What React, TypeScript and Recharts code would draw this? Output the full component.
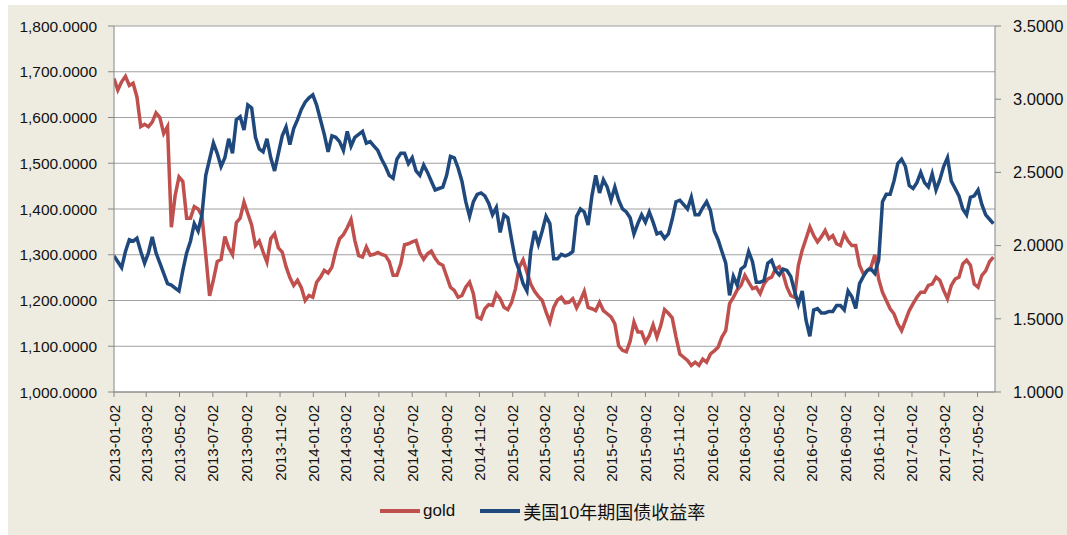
import React from "react";
import { LineChart, Line, XAxis, YAxis, CartesianGrid } from "recharts";

// Weekly observations (Wednesdays) starting 2013-01-02
const START_DATE = "2013-01-02";

const goldValues = [
  1685, 1660, 1678, 1690, 1670, 1675, 1645, 1580, 1585, 1580,
  1590, 1610, 1600, 1565, 1580, 1360, 1430, 1470, 1460, 1380,
  1380, 1405, 1400, 1385, 1300, 1210, 1245, 1285, 1290, 1340,
  1315, 1300, 1370, 1380, 1415, 1390, 1365, 1320, 1330, 1306,
  1284, 1335, 1346, 1315, 1306, 1274, 1250, 1233, 1244, 1228,
  1200, 1211, 1207, 1240, 1251, 1266, 1260, 1273, 1308, 1335,
  1344, 1359, 1377, 1331, 1298, 1295, 1317, 1299, 1301, 1305,
  1301, 1298, 1285, 1255, 1255, 1280, 1322, 1324, 1328, 1331,
  1304, 1290, 1302, 1308, 1292, 1281, 1277, 1253, 1229, 1222,
  1207, 1211, 1229, 1240, 1215, 1164, 1160, 1182, 1191, 1189,
  1215, 1204, 1185, 1180, 1196, 1226, 1273, 1289, 1262, 1236,
  1220, 1209, 1200, 1175, 1153, 1185, 1201, 1207, 1195, 1196,
  1204, 1184, 1200, 1220, 1185, 1182, 1178, 1196, 1178, 1171,
  1164, 1149, 1101, 1091, 1088, 1111, 1153, 1131, 1131, 1109,
  1123, 1147, 1120, 1145, 1180, 1172, 1162, 1120, 1083, 1076,
  1069, 1058, 1065, 1058, 1072, 1065, 1083, 1090, 1098, 1120,
  1134, 1193, 1207, 1223, 1233, 1255, 1240, 1226, 1229, 1215,
  1236, 1247, 1251, 1269, 1274, 1258, 1229, 1211, 1207, 1277,
  1310, 1335, 1361, 1342, 1328, 1339, 1353, 1335, 1342, 1324,
  1320, 1345, 1330, 1320, 1320, 1277, 1258, 1265, 1273, 1300,
  1247, 1218, 1200, 1182, 1171, 1149, 1134, 1156, 1178, 1193,
  1207, 1218, 1218, 1233, 1236, 1251, 1244, 1222, 1204, 1233,
  1247, 1251, 1280, 1288, 1277, 1236, 1229, 1255, 1265, 1285, 1295,
];

const yieldValues = [
  1.93, 1.89, 1.85, 1.96, 2.04, 2.03, 2.05, 1.96, 1.88, 1.95,
  2.06, 1.95, 1.88, 1.81, 1.74, 1.73, 1.71, 1.69, 1.83, 1.95,
  2.03, 2.15, 2.10, 2.21, 2.48, 2.59, 2.70, 2.63, 2.54, 2.60,
  2.73, 2.63, 2.86, 2.88, 2.79, 2.96, 2.94, 2.74, 2.66, 2.64,
  2.73, 2.60, 2.51, 2.63, 2.75, 2.81, 2.69, 2.80, 2.86, 2.93,
  2.98, 3.01, 3.03, 2.96, 2.86, 2.76, 2.64, 2.75, 2.74, 2.71,
  2.65, 2.78, 2.68, 2.74, 2.76, 2.78, 2.70, 2.71, 2.68, 2.65,
  2.59, 2.54, 2.48, 2.46, 2.59, 2.63, 2.63, 2.56, 2.60, 2.51,
  2.48, 2.55, 2.50, 2.44, 2.38, 2.39, 2.40, 2.48, 2.61, 2.60,
  2.53, 2.44, 2.30, 2.20, 2.30, 2.35, 2.36, 2.34, 2.29, 2.21,
  2.26, 2.09, 2.21, 2.19, 2.04, 1.90, 1.83, 1.74, 1.69, 1.96,
  2.10, 2.01, 2.10, 2.20, 2.15, 1.91, 1.91, 1.94, 1.93, 1.94,
  1.96, 2.20, 2.25, 2.23, 2.14, 2.34, 2.48, 2.36, 2.45, 2.40,
  2.31, 2.40, 2.31, 2.25, 2.23, 2.19, 2.08, 2.15, 2.21, 2.16,
  2.23, 2.16, 2.08, 2.09, 2.05, 2.08, 2.18, 2.30, 2.31, 2.28,
  2.25, 2.33, 2.21, 2.21, 2.26, 2.30, 2.24, 2.10, 2.04, 1.96,
  1.88, 1.66, 1.79, 1.73, 1.84, 1.86, 1.96, 1.89, 1.75, 1.75,
  1.76, 1.88, 1.90, 1.83, 1.80, 1.84, 1.83, 1.79, 1.69, 1.60,
  1.69, 1.49, 1.38, 1.56, 1.57, 1.54, 1.54, 1.55, 1.55, 1.59,
  1.59, 1.56, 1.69, 1.65, 1.57, 1.74, 1.79, 1.83, 1.84, 1.81,
  1.90, 2.30, 2.35, 2.35, 2.44, 2.56, 2.59, 2.54, 2.41, 2.39,
  2.43, 2.50, 2.43, 2.40, 2.49, 2.38, 2.45, 2.54, 2.60, 2.44,
  2.39, 2.34, 2.25, 2.21, 2.33, 2.34, 2.38, 2.28, 2.21, 2.18, 2.15,
];

const xTickLabels = [
  "2013-01-02", "2013-03-02", "2013-05-02", "2013-07-02", "2013-09-02", "2013-11-02",
  "2014-01-02", "2014-03-02", "2014-05-02", "2014-07-02", "2014-09-02", "2014-11-02",
  "2015-01-02", "2015-03-02", "2015-05-02", "2015-07-02", "2015-09-02", "2015-11-02",
  "2016-01-02", "2016-03-02", "2016-05-02", "2016-07-02", "2016-09-02", "2016-11-02",
  "2017-01-02", "2017-03-02", "2017-05-02",
];
const X_END_DATE = "2017-06-03";

const leftTicks = [1000, 1100, 1200, 1300, 1400, 1500, 1600, 1700, 1800];
const rightTicks = [1.0, 1.5, 2.0, 2.5, 3.0, 3.5];

const seriesNames = { gold: "gold", yield: "美国10年期国债收益率" };
const colors = { gold: "#C0504D", yield: "#1F497D" };

const DAY = 86400000;
const toTs = (s: string) => {
  const [y, m, d] = s.split("-").map(Number);
  return Date.UTC(y, m - 1, d);
};
const startTs = toTs(START_DATE);

const data = goldValues.map((g, i) => ({
  t: startTs + i * 7 * DAY,
  gold: g,
  yield: yieldValues[i],
}));

const FONT = "'Liberation Sans', Arial, sans-serif";
const TEXT = "#111";
const AXIS = "#868686";

const fmtDate = (v: number) => new Date(v).toISOString().slice(0, 10);
const fmtLeft = (v: number) =>
  v.toLocaleString("en-US", { minimumFractionDigits: 4, maximumFractionDigits: 4 });
const fmtRight = (v: number) => v.toFixed(4);

const XTick = (props: any) => {
  const { x, y, payload } = props;
  return (
    <text
      x={x}
      y={y}
      transform={`rotate(-90 ${x} ${y})`}
      textAnchor="end"
      dominantBaseline="central"
      fontSize={15}
      fontFamily={FONT}
      fill={TEXT}
    >
      {fmtDate(payload.value)}
    </text>
  );
};

export default function App() {
  return (
    <div style={{ position: "absolute", left: 0, top: 0, width: 1067, height: 535 }}>
      <div
        style={{
          position: "absolute",
          left: 8,
          top: 5,
          width: 1059,
          height: 530,
          background: "#EEECE1",
        }}
      />
      <div style={{ position: "absolute", left: 0, top: 0 }}>
        <LineChart
          width={1067}
          height={535}
          data={data}
          margin={{ top: 26, right: 0, bottom: 0, left: 0 }}
        >
          <CartesianGrid vertical={false} stroke="#A0A0A0" fill="#FFFFFF" yAxisId="left" />
          <XAxis
            dataKey="t"
            type="number"
            scale="time"
            domain={[startTs, toTs(X_END_DATE)]}
            ticks={xTickLabels.map(toTs)}
            tick={<XTick />}
            height={143}
            tickSize={5}
            tickMargin={8}
            interval={0}
            axisLine={{ stroke: AXIS }}
            tickLine={{ stroke: AXIS }}
            allowDataOverflow
          />
          <YAxis
            yAxisId="left"
            orientation="left"
            width={114}
            domain={[1000, 1800]}
            ticks={leftTicks}
            tickFormatter={fmtLeft}
            tickSize={6}
            tickMargin={11}
            interval={0}
            axisLine={{ stroke: AXIS }}
            tickLine={{ stroke: AXIS }}
            tick={{ fill: TEXT, fontSize: 15.5, fontFamily: FONT }}
            allowDataOverflow
          />
          <YAxis
            yAxisId="right"
            orientation="right"
            width={72}
            domain={[1.0, 3.5]}
            ticks={rightTicks}
            tickFormatter={fmtRight}
            tickSize={6}
            tickMargin={12}
            interval={0}
            axisLine={{ stroke: AXIS }}
            tickLine={{ stroke: AXIS }}
            tick={{ fill: TEXT, fontSize: 16.5, fontFamily: FONT, textAnchor: "start" }}
            allowDataOverflow
          />
          <Line
            yAxisId="left"
            type="linear"
            dataKey="gold"
            name={seriesNames.gold}
            stroke={colors.gold}
            strokeWidth={3.5}
            dot={false}
            isAnimationActive={false}
          />
          <Line
            yAxisId="right"
            type="linear"
            dataKey="yield"
            name={seriesNames.yield}
            stroke={colors.yield}
            strokeWidth={3.5}
            dot={false}
            isAnimationActive={false}
          />
        </LineChart>
      </div>
      <div
        style={{
          position: "absolute",
          left: 380,
          top: 500,
          height: 22,
          display: "flex",
          alignItems: "center",
          fontFamily: FONT,
          fontSize: 17,
          color: TEXT,
          whiteSpace: "nowrap",
        }}
      >
        <span style={{ display: "inline-block", width: 40, height: 4, background: colors.gold }} />
        <span style={{ marginLeft: 3, marginRight: 25 }}>{seriesNames.gold}</span>
        <span style={{ display: "inline-block", width: 40, height: 4, background: colors.yield }} />
        <span
          style={{
            marginLeft: 3,
            fontSize: 18,
            fontFamily: "'Liberation Sans', 'Noto Sans CJK SC', sans-serif",
          }}
        >
          {seriesNames.yield}
        </span>
      </div>
    </div>
  );
}
